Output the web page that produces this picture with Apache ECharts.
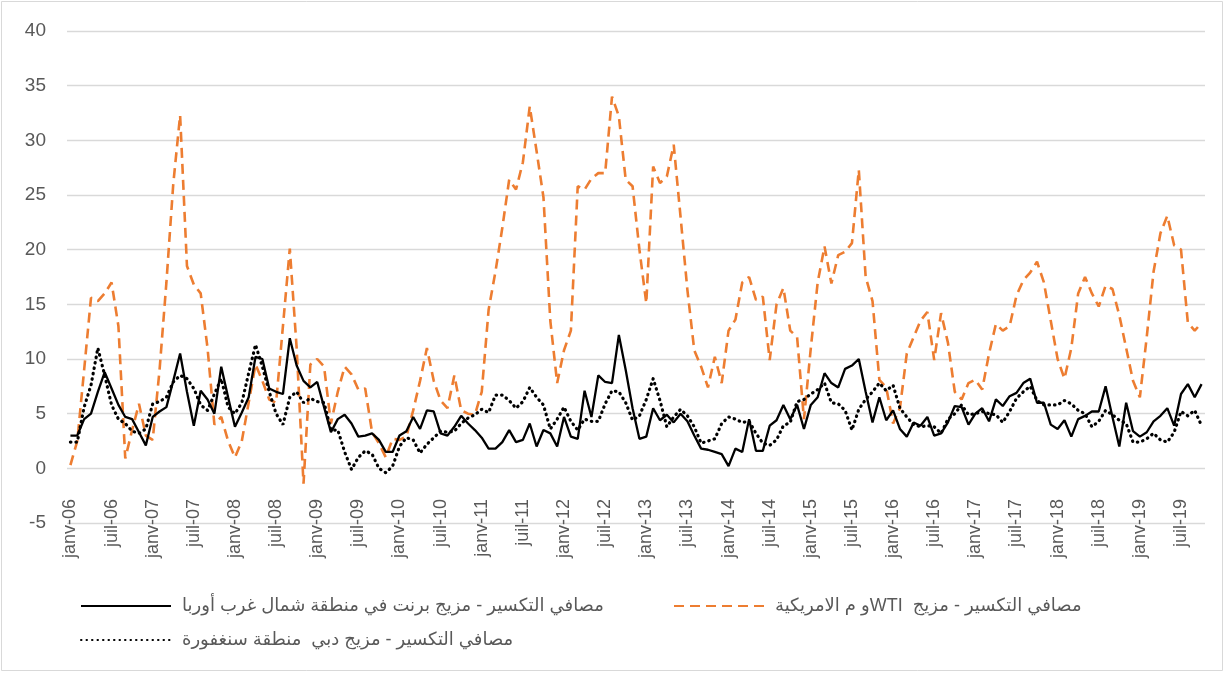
<!DOCTYPE html>
<html>
<head>
<meta charset="utf-8">
<script src="https://cdn.jsdelivr.net/npm/echarts@6/dist/echarts.min.js"></script>
<style>
html,body{margin:0;padding:0;background:#fff;}
#c{width:1225px;height:673px;}
</style>
</head>
<body>
<div id="c"></div>
<script>
// Month / year labels for the category axis (French abbreviations)
const monthNames = ['janv','févr','mars','avr','mai','juin','juil','août','sept','oct','nov','déc'];
const years = ['06','07','08','09','10','11','12','13','14','15','16','17','18','19'];
const monthCount = 166; // janv-06 .. oct-19

const seriesNames = [
  'مصافي التكسير - مزيج برنت في منطقة شمال غرب أوربا',
  'مصافي التكسير - مزيج  WTIو م الامريكية',
  'مصافي التكسير - مزيج دبي  منطقة سنغفورة'
];

// Brent – North West Europe cracking margin
const brent = [
  3.0, 3.0, 4.5, 5.0, 7.0, 8.8, 7.3, 5.8, 4.7, 4.5, 3.3, 2.1,
  4.7, 5.2, 5.6, 8.0, 10.5, 7.0, 3.9, 7.1, 6.3, 5.0, 9.3, 6.5,
  3.8, 5.1, 6.5, 10.2, 10.0, 7.3, 7.0, 6.8, 11.9, 9.4, 8.0, 7.4,
  7.9, 5.6, 3.3, 4.5, 4.9, 4.1, 2.9, 3.0, 3.2, 2.6, 1.5, 1.5,
  3.0, 3.4, 4.7, 3.6, 5.3, 5.2, 3.2, 3.0, 3.8, 4.8, 4.1, 3.5,
  2.8, 1.8, 1.8, 2.4, 3.5, 2.4, 2.6, 4.1, 2.0, 3.5, 3.2, 2.0,
  4.7, 2.9, 2.7, 7.1, 4.7, 8.5, 7.9, 7.8, 12.2, 9.0, 5.5, 2.7,
  2.9, 5.5, 4.4, 4.9, 4.2, 5.0, 4.3, 3.0, 1.8, 1.7, 1.5, 1.3,
  0.2, 1.8, 1.5, 4.5, 1.6, 1.6, 3.9, 4.4, 5.8, 4.5, 5.8, 3.6,
  5.8, 6.5, 8.7, 7.8, 7.4, 9.1, 9.4, 10.0, 7.0, 4.2, 6.5, 4.4,
  5.3, 3.6, 2.9, 4.2, 3.9, 4.7, 3.0, 3.2, 4.2, 5.7, 5.6, 4.0,
  5.0, 5.5, 4.3, 6.3, 5.7, 6.6, 6.9, 7.8, 8.2, 6.0, 6.0, 4.0,
  3.6, 4.4, 2.9, 4.5, 4.8, 5.2, 5.2, 7.5, 4.7, 2.0, 6.0, 3.4,
  2.9, 3.3, 4.3, 4.8, 5.5, 3.9, 6.8, 7.7, 6.5, 7.7
];

// WTI – US cracking margin
const wti = [
  0.3, 2.5, 9.0, 15.6, 15.3, 16.0, 17.0, 13.0, 0.9, 3.5, 5.9, 3.0,
  2.6, 9.0, 17.0, 26.0, 32.3, 18.5, 16.8, 16.0, 11.0, 4.0, 4.7, 2.5,
  1.0, 2.5, 6.0, 9.5, 8.0, 6.3, 6.0, 13.0, 20.1, 11.0, -1.4, 9.5,
  10.0, 9.3, 4.1, 7.0, 9.3, 8.6, 7.2, 7.3, 3.3, 2.3, 1.0, 2.7,
  2.6, 2.9, 5.3, 8.0, 11.0, 8.0, 6.2, 5.5, 8.5, 5.3, 5.0, 4.9,
  7.0, 14.5, 18.0, 22.0, 26.4, 25.5, 28.0, 33.1, 29.0, 24.8, 13.5, 7.8,
  10.8, 12.6, 25.8, 25.5, 26.5, 27.0, 27.0, 34.0, 32.2, 26.4, 25.8, 20.0,
  15.1, 27.6, 26.1, 26.7, 29.6, 23.0, 16.3, 10.8, 9.3, 7.4, 10.2, 7.8,
  12.6, 13.6, 17.0, 17.5, 15.4, 15.7, 9.9, 15.0, 16.5, 12.6, 12.0, 4.5,
  11.0, 17.0, 20.3, 16.9, 19.5, 19.8, 20.6, 27.3, 17.5, 15.3, 8.1, 7.4,
  4.1, 5.5, 10.5, 12.0, 13.5, 14.3, 9.9, 14.2, 11.5, 7.0, 6.3, 7.8,
  8.1, 7.2, 10.5, 13.2, 12.6, 13.0, 15.8, 17.2, 17.9, 18.9, 17.0, 13.5,
  10.0, 8.2, 11.0, 16.0, 17.5, 16.0, 14.8, 16.7, 16.4, 14.0, 11.0, 8.0,
  6.5, 12.0, 18.0, 21.5, 23.1, 20.4, 20.0, 13.3, 12.6, 13.3
];

// Dubai – Singapore cracking margin
const dubai = [
  2.4, 2.4, 5.6, 7.6, 11.0, 8.5, 5.8, 4.5, 4.1, 3.4, 3.2, 3.6,
  5.9, 6.1, 6.5, 7.9, 8.5, 8.2, 7.3, 5.8, 5.3, 6.8, 8.2, 5.6,
  5.0, 6.0, 8.7, 11.3, 9.3, 7.0, 5.0, 4.0, 6.5, 7.0, 6.0, 6.4,
  6.1, 6.0, 3.5, 3.5, 1.5, -0.1, 1.0, 1.6, 1.3, 0.0, -0.4, 0.2,
  2.0, 2.8, 2.6, 1.4, 2.2, 2.8, 3.4, 3.3, 3.4, 4.1, 4.6, 4.9,
  5.4, 5.1, 6.7, 6.7, 6.2, 5.5, 6.1, 7.4, 6.5, 5.8, 3.6, 4.5,
  5.6, 4.3, 3.5, 4.5, 4.3, 4.3, 5.9, 7.1, 7.0, 6.0, 4.4, 4.8,
  6.3, 8.2, 6.2, 3.8, 4.7, 5.4, 4.8, 3.8, 2.3, 2.5, 2.7, 4.1,
  4.7, 4.5, 4.2, 4.3, 3.2, 2.3, 2.1, 2.6, 3.9, 4.2, 6.1, 6.3,
  6.8, 7.2, 7.8, 6.0, 5.9, 5.3, 3.5, 5.4, 6.3, 7.0, 7.8, 7.1,
  7.6, 5.5, 4.7, 4.0, 3.8, 3.9, 3.8, 3.2, 4.5, 5.0, 5.8, 4.9,
  5.0, 5.2, 5.0, 4.9, 4.2, 5.2, 6.4, 7.0, 7.5, 6.2, 5.8, 5.8,
  5.8, 6.2, 5.9, 5.3, 5.0, 3.8, 4.3, 5.3, 4.9, 4.4, 4.1, 2.4,
  2.4, 2.7, 3.2, 2.6, 2.4, 3.3, 5.2, 4.8, 5.3, 3.9
];

// y-axis scale
const yMin = -5, yMax = 40, yStep = 5;

const categories = [];
for (const y of years) for (const m of monthNames) categories.push(m + '-' + y);
categories.length = monthCount;

const txt = '#595959';
const legendText = {fontSize: 18, color: txt, fontFamily: "'Liberation Sans','DejaVu Sans',sans-serif", padding: [0, 0, 0, 6]};
// wrap the Arabic legend text in a right-to-left embedding so it reads correctly
const rtl = n => '\u202B' + n + '\u202C';
const legendBase = {itemWidth: 90, itemHeight: 14, textStyle: legendText, formatter: rtl, itemStyle: {opacity: 0}};

const chart = echarts.init(document.getElementById('c'), null, {renderer: 'canvas'});
chart.setOption({
  animation: false,
  backgroundColor: '#fff',
  graphic: [{
    type: 'rect', silent: true,
    shape: {x: 1.5, y: 1.5, width: 1221, height: 669},
    style: {fill: null, stroke: '#d9d9d9', lineWidth: 1}
  }],
  grid: {left: 67, right: 20, top: 31, bottom: 150, containLabel: false},
  xAxis: {
    type: 'category',
    data: categories,
    boundaryGap: true,
    axisLine: {show: false},
    axisTick: {show: false},
    splitLine: {show: false},
    axisLabel: {
      interval: 5, rotate: 90, margin: -24,
      fontSize: 18, color: txt, fontFamily: "'Liberation Sans',sans-serif"
    }
  },
  yAxis: {
    type: 'value', min: yMin, max: yMax, interval: yStep,
    axisLine: {show: false}, axisTick: {show: false},
    splitLine: {lineStyle: {color: '#d9d9d9', width: 1.3}},
    axisLabel: {fontSize: 19, color: txt, margin: 21, fontFamily: "'Liberation Sans',sans-serif"}
  },
  legend: [
    Object.assign({data: [seriesNames[0]], left: 75, top: 592}, legendBase),
    Object.assign({data: [seriesNames[1]], left: 668, top: 592}, legendBase),
    Object.assign({data: [seriesNames[2]], left: 75, top: 626}, legendBase)
  ],
  series: [
    {
      name: seriesNames[0], type: 'line', data: brent, symbol: 'none', z: 3,
      lineStyle: {color: '#000', width: 2.3}, itemStyle: {color: '#000'}
    },
    {
      name: seriesNames[1], type: 'line', data: wti, symbol: 'none', z: 2,
      lineStyle: {color: '#ED7D31', width: 2.6, type: [10, 6]}, itemStyle: {color: '#ED7D31'}
    },
    {
      name: seriesNames[2], type: 'line', data: dubai, symbol: 'none', z: 4,
      lineStyle: {color: '#000', width: 3.2, type: [0.5, 5], cap: 'round'}, itemStyle: {color: '#000'}
    }
  ]
});
</script>
</body>
</html>
